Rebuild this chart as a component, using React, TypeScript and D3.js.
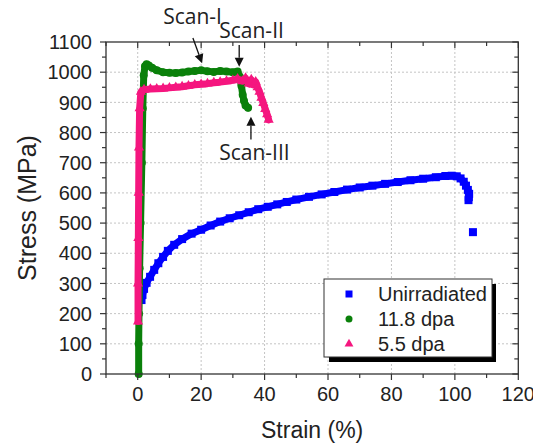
import React from "react";
import * as d3 from "d3";

const W = 533;
const H = 444;

// Unirradiated (strain %, stress MPa)
const unirrStrain = [1.2, 1.5, 2.0, 2.8, 3.9, 5.2, 6.5, 8.0, 9.5, 11.5, 14.0, 17.0, 20.0, 23.0, 26.0, 29.0, 32.0, 35.0, 38.0, 41.0, 44.0, 47.0, 50.0, 54.0, 58.0, 62.0, 66.0, 70.0, 74.0, 78.0, 82.0, 86.0, 90.0, 94.0, 97.0, 99.0, 100.6, 101.8, 102.8, 103.5, 104.1, 104.5, 104.4, 104.3, 105.7];
const unirrStress = [245, 262, 282, 302, 322, 345, 367, 388, 408, 428, 447, 465, 478, 492, 505, 516, 526, 536, 546, 554, 562, 570, 578, 587, 595, 603, 611, 618, 624, 630, 636, 642, 647, 652, 656, 657, 655, 648, 637, 624, 610, 597, 586, 576, 470];

// 11.8 dpa
const dpa118Strain = [0.3, 0.3, 0.4, 0.6, 0.9, 1.3, 1.6, 1.9, 2.3, 2.8, 3.5, 4.5, 6.0, 8.0, 10.0, 12.0, 14.0, 16.0, 18.0, 20.0, 22.0, 24.0, 26.0, 28.0, 30.0, 31.5, 32.2, 32.7, 33.1, 33.5, 34.0, 34.8];
const dpa118Stress = [0, 100, 200, 350, 500, 700, 880, 990, 1020, 1026, 1022, 1015, 1006, 1000, 998, 997, 999, 1002, 1004, 1006, 1003, 1001, 1004, 1002, 1000, 1002, 985, 955, 925, 905, 890, 882];

// 5.5 dpa
const dpa55Strain = [0.1, 0.1, 0.2, 0.3, 0.4, 0.6, 1.0, 2.0, 4.0, 6.0, 8.0, 10.0, 12.0, 14.0, 16.0, 18.0, 20.0, 22.0, 24.0, 26.0, 28.0, 30.0, 31.5, 33.0, 34.0, 35.0, 35.8, 36.5, 37.2, 37.8, 38.4, 39.0, 39.6, 40.2, 40.8, 41.3];
const dpa55Stress = [174, 300, 450, 600, 750, 880, 935, 942, 944, 945, 946, 948, 950, 952, 955, 958, 960, 962, 965, 967, 970, 973, 978, 970, 980, 962, 975, 958, 968, 950, 935, 915, 898, 878, 860, 842];

const xTicks = [0, 20, 40, 60, 80, 100, 120];
const yTicks = [0, 100, 200, 300, 400, 500, 600, 700, 800, 900, 1000, 1100];
const legendLabels = ["Unirradiated", "11.8 dpa", "5.5 dpa"];
const colors = ["#0000ff", "#0a800a", "#f5167f"];

// annotations in data coordinates
const annLabels = ["Scan-I", "Scan-II", "Scan-III"];
const annText: [number, number][] = [[17.3, 1158], [35.9, 1113], [36.8, 709]];
const annTail: [number, number][] = [[17.4, 1113], [32.0, 1090], [35.7, 777]];
const annTip: [number, number][] = [[20.3, 1030], [32.0, 1018], [35.7, 852]];

export default function App() {
  const x = d3.scaleLinear().domain([-10, 120]).range([106, 518.3]);
  const y = d3.scaleLinear().domain([0, 1100]).range([374, 42]);
  const x0 = x.range()[0], x1 = x.range()[1];
  const y0 = y.range()[0], y1 = y.range()[1];

  const series = [
    { xs: unirrStrain, ys: unirrStress, shape: "square" },
    { xs: dpa118Strain, ys: dpa118Stress, shape: "circle" },
    { xs: dpa55Strain, ys: dpa55Stress, shape: "triangle" },
  ];

  const line = d3.line<[number, number]>().x((d) => x(d[0])).y((d) => y(d[1]));

  const marker = (shape: string, cx: number, cy: number, color: string, s: number, key: any) => {
    if (shape === "square")
      return <rect key={key} x={cx - s / 2} y={cy - s / 2} width={s} height={s} fill={color} />;
    if (shape === "circle") return <circle key={key} cx={cx} cy={cy} r={s / 2} fill={color} />;
    const sym = d3.symbol().type(d3.symbolTriangle).size(s * s * 0.7)();
    return <path key={key} d={sym as string} transform={`translate(${cx},${cy})`} fill={color} />;
  };

  const xMinor = d3.range(-10, 121, 10);
  const yMinor = d3.range(0, 1101, 50);
  const axisColor = "#333";
  const font = "'Liberation Sans', Arial, sans-serif";

  const arrowHead = (tail: [number, number], tip: [number, number]) => {
    const tx = x(tip[0]), ty = y(tip[1]);
    const ax = x(tail[0]), ay = y(tail[1]);
    const ang = Math.atan2(ty - ay, tx - ax);
    const L = 9, Wd = 4.5;
    const bx = tx - L * Math.cos(ang), by = ty - L * Math.sin(ang);
    const p1 = [bx + Wd * Math.sin(ang), by - Wd * Math.cos(ang)];
    const p2 = [bx - Wd * Math.sin(ang), by + Wd * Math.cos(ang)];
    return { line: [ax, ay, bx, by], head: `M${tx},${ty}L${p1[0]},${p1[1]}L${p2[0]},${p2[1]}Z` };
  };

  return (
    <svg width={W} height={H} style={{ position: "absolute", left: 0, top: 0, background: "#fff" }}>
      <rect x={0} y={0} width={W} height={H} fill="#fff" />
      {/* grid */}
      {xTicks.filter((t) => t < 120).map((t) => (
        <line key={"gx" + t} x1={x(t)} x2={x(t)} y1={y0} y2={y1} stroke="#c4c4c4" strokeWidth={1} strokeDasharray="2,2" />
      ))}
      {yTicks.filter((t) => t > 0 && t < 1100).map((t) => (
        <line key={"gy" + t} x1={x0} x2={x1} y1={y(t)} y2={y(t)} stroke="#c4c4c4" strokeWidth={1} strokeDasharray="2,2" />
      ))}

      {/* data */}
      {series.map((s, i) => {
        const pts: [number, number][] = s.xs.map((v, j) => [v, s.ys[j]]);
        const main = i === 0 ? pts.slice(0, pts.length - 1) : pts;
        return (
          <g key={"s" + i}>
            <path d={line(main) as string} fill="none" stroke={colors[i]} strokeWidth={7} strokeLinejoin="round" strokeLinecap="round" />
            {pts.map((p, j) => marker(s.shape, x(p[0]), y(p[1]), colors[i], 8, j))}
          </g>
        );
      })}

      {/* frame */}
      <rect x={x0} y={y1} width={x1 - x0} height={y0 - y1} fill="none" stroke={axisColor} strokeWidth={1.3} />
      {xMinor.map((t) => {
        const major = t % 20 === 0;
        const len = major ? 6 : 4;
        return (
          <g key={"xt" + t}>
            <line x1={x(t)} x2={x(t)} y1={y0} y2={y0 + len} stroke={axisColor} strokeWidth={1.2} />
            <line x1={x(t)} x2={x(t)} y1={y1} y2={y1 + len} stroke={axisColor} strokeWidth={1.2} />
          </g>
        );
      })}
      {yMinor.map((t) => {
        const major = t % 100 === 0;
        const len = major ? 6 : 4;
        return (
          <g key={"yt" + t}>
            <line x1={x0 - len} x2={x0} y1={y(t)} y2={y(t)} stroke={axisColor} strokeWidth={1.2} />
            <line x1={x1 - len} x2={x1} y1={y(t)} y2={y(t)} stroke={axisColor} strokeWidth={1.2} />
          </g>
        );
      })}
      {xTicks.map((t) => (
        <text key={"xl" + t} x={x(t)} y={401} textAnchor="middle" fontFamily={font} fontSize={20} fill="#222">{t}</text>
      ))}
      {yTicks.map((t) => (
        <text key={"yl" + t} x={x0 - 14} y={y(t)} dy="0.36em" textAnchor="end" fontFamily={font} fontSize={20} fill="#222">{t}</text>
      ))}
      <text x={(x0 + x1) / 2} y={438} textAnchor="middle" fontFamily={font} fontSize={23} fill="#222">Strain (%)</text>
      <text transform={`translate(36,${(y0 + y1) / 2}) rotate(-90)`} textAnchor="middle" fontFamily={font} fontSize={25} fill="#222">Stress (MPa)</text>

      {/* annotations */}
      {annLabels.map((lab, i) => {
        const a = arrowHead(annTail[i], annTip[i]);
        return (
          <g key={"a" + i}>
            <line x1={a.line[0]} y1={a.line[1]} x2={a.line[2]} y2={a.line[3]} stroke="#111" strokeWidth={1.3} />
            <path d={a.head} fill="#111" />
            <text x={x(annText[i][0])} y={y(annText[i][1])} textAnchor="middle" fontFamily="'Open Sans', sans-serif" fontSize={21} fill="#222">{lab}</text>
          </g>
        );
      })}

      {/* legend */}
      <rect x={329} y={284} width={167} height={78} fill="#000" />
      <rect x={324} y={279} width={168} height={78} fill="#fff" stroke="#333" strokeWidth={1} />
      {legendLabels.map((lab, i) => {
        const cy = 294 + i * 25;
        return (
          <g key={"l" + i}>
            {marker(series[i].shape, 349, cy, colors[i], 7, "m" + i)}
            <text x={378} y={cy} dy="0.36em" fontFamily={font} fontSize={20} fill="#222">{lab}</text>
          </g>
        );
      })}
    </svg>
  );
}
